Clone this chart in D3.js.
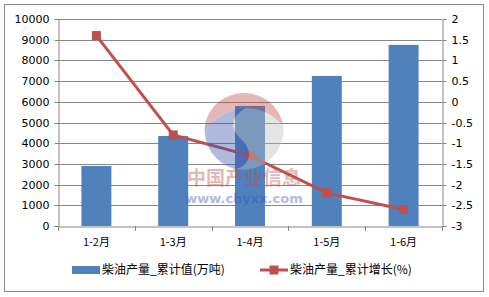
<!DOCTYPE html>
<html>
<head>
<meta charset="utf-8">
<script src="https://cdn.jsdelivr.net/npm/d3@7"></script>
<style>
  body { margin: 0; background: #fff; }
  text { font-family: "DejaVu Sans", Verdana, sans-serif; font-size: 11px; fill: #000; }
  .cjk { font-family: "Noto Sans CJK SC", "DejaVu Sans", sans-serif; }
</style>
</head>
<body>
<script>
const categories = ["1-2月", "1-3月", "1-4月", "1-5月", "1-6月"]
const output = [2900, 4350, 5800, 7250, 8750]
const growth = [1.6, -0.8, -1.3, -2.2, -2.6]
const leftTicks = [0, 1000, 2000, 3000, 4000, 5000, 6000, 7000, 8000, 9000, 10000]
const rightTicks = [-3, -2.5, -2, -1.5, -1, -0.5, 0, 0.5, 1, 1.5, 2]
const barName = "柴油产量_累计值(万吨)"
const lineName = "柴油产量_累计增长(%)"

const W = 489, H = 297
const margin = {top: 19, right: 47, bottom: 71, left: 58},
    width = W - margin.left - margin.right,
    height = H - margin.top - margin.bottom

const barColor = "#4f81bd", lineColor = "#c0504d", gridColor = "#868686"

const svg = d3.select("body").append("svg")
    .attr("width", W)
    .attr("height", H)

svg.append("rect")
    .attr("x", 4.5).attr("y", 4.5)
    .attr("width", 479).attr("height", 287)
    .attr("fill", "#fff")
    .attr("stroke", "#8c8c8c")

const g = svg.append("g")
    .attr("transform", "translate(" + margin.left + "," + margin.top + ")")

const x = d3.scaleBand()
    .domain(categories)
    .range([0, width])
    .paddingInner(0.61)
    .paddingOuter(0.305)

const xPoint = d3.scaleBand().domain(categories).range([0, width])

const y = d3.scaleLinear().domain([0, 10000]).range([height, 0])
const y2 = d3.scaleLinear().domain([-3, 2]).range([height, 0])

// gridlines
g.selectAll(".grid")
    .data(leftTicks.slice(1))
  .enter().append("line")
    .attr("x1", 0).attr("x2", width)
    .attr("y1", d => Math.round(y(d)) + 0.5)
    .attr("y2", d => Math.round(y(d)) + 0.5)
    .attr("stroke", gridColor)

// left axis
const yAxis = g.append("g")
    .attr("transform", "translate(0.5,0)")
    .call(d3.axisLeft(y).tickValues(leftTicks).tickSize(4).tickPadding(5).tickFormat(d3.format("d")))
yAxis.selectAll("line, path").attr("stroke", gridColor)
yAxis.selectAll(".tick").attr("transform", d => "translate(0," + (Math.round(y(d)) + 0.5) + ")")

// right axis
const yAxis2 = g.append("g")
    .attr("transform", "translate(" + (width + 0.5) + ",0)")
    .call(d3.axisRight(y2).tickValues(rightTicks).tickSize(4).tickPadding(5).tickFormat(d => d))
yAxis2.selectAll("line, path").attr("stroke", gridColor)
yAxis2.selectAll(".tick").attr("transform", d => "translate(0," + (Math.round(y2(d)) + 0.5) + ")")

// bars
g.selectAll(".bar")
    .data(output)
  .enter().append("rect")
    .attr("class", "bar")
    .attr("x", (d, i) => x(categories[i]))
    .attr("width", x.bandwidth())
    .attr("y", d => y(d))
    .attr("height", d => height - y(d))
    .attr("fill", barColor)

// x axis
const xAxis = g.append("g")
    .attr("transform", "translate(0," + (height + 0.5) + ")")
    .call(d3.axisBottom(xPoint).tickSize(0).tickPadding(12))
xAxis.select("path").attr("stroke", gridColor)
xAxis.selectAll("text").attr("class", "cjk")
g.selectAll(".xtick")
    .data(d3.range(categories.length + 1))
  .enter().append("line")
    .attr("x1", i => Math.round(i * xPoint.step()) + 0.5)
    .attr("x2", i => Math.round(i * xPoint.step()) + 0.5)
    .attr("y1", height).attr("y2", height + 5)
    .attr("stroke", gridColor)

// line
const line = d3.line()
    .x((d, i) => xPoint(categories[i]) + xPoint.bandwidth() / 2)
    .y(d => y2(d))

g.append("path")
    .datum(growth)
    .attr("fill", "none")
    .attr("stroke", lineColor)
    .attr("stroke-width", 3)
    .attr("d", line)

g.selectAll(".marker")
    .data(growth)
  .enter().append("rect")
    .attr("x", (d, i) => xPoint(categories[i]) + xPoint.bandwidth() / 2 - 4.5)
    .attr("y", d => y2(d) - 4.5)
    .attr("width", 9).attr("height", 9)
    .attr("fill", lineColor)

// watermark, drawn over the chart
const wm = svg.append("g")
    .attr("transform", "translate(244,130)")
    .attr("opacity", 0.4)
wm.append("path")
    .attr("d", "M39,-6 A40,40 0 0 1 -8,39 C8,34 8,20 -2,10 C-14,0 -14,-14 2,-22 C25,-22 30,-10 39,-6 Z")
    .attr("fill", "#bdbdbd")
wm.append("path")
    .attr("d", "M-39,-6 A40,40 0 0 1 39,-6 C30,-10 25,-22 2,-22 C-20,-22 -26,-8 -39,-6 Z")
    .attr("fill", "#c0504d")
wm.append("path")
    .attr("d", "M-39,-6 C-26,-8 -20,-22 2,-22 C-14,-14 -14,0 -2,10 C8,20 8,34 -8,39 A40,40 0 0 1 -39,-6 Z")
    .attr("fill", "#3d55b0")
wm.append("text").attr("class", "cjk")
    .attr("x", 0).attr("y", 55)
    .attr("text-anchor", "middle")
    .style("font-size", "19px").style("font-weight", "bold")
    .style("fill", "#c0504d")
    .text("中国产业信息")
wm.append("text")
    .attr("x", 0).attr("y", 73)
    .attr("text-anchor", "middle")
    .style("font-size", "13px").style("font-weight", "bold")
    .style("fill", "#3d55b0")
    .text("www.chyxx.com")

// legend
const legend = svg.append("g").attr("transform", "translate(0,270)")
legend.append("rect")
    .attr("x", 72).attr("y", -4)
    .attr("width", 28).attr("height", 8)
    .attr("fill", barColor)
legend.append("text").attr("class", "cjk")
    .attr("x", 102).attr("y", 0).attr("dy", ".35em")
    .style("font-size", "12px")
    .text(barName)
legend.append("line")
    .attr("x1", 260).attr("x2", 288)
    .attr("y1", 0).attr("y2", 0)
    .attr("stroke", lineColor).attr("stroke-width", 3)
legend.append("rect")
    .attr("x", 269.5).attr("y", -4.5)
    .attr("width", 9).attr("height", 9)
    .attr("fill", lineColor)
legend.append("text").attr("class", "cjk")
    .attr("x", 290).attr("y", 0).attr("dy", ".35em")
    .style("font-size", "12px")
    .text(lineName)
</script>
</body>
</html>
